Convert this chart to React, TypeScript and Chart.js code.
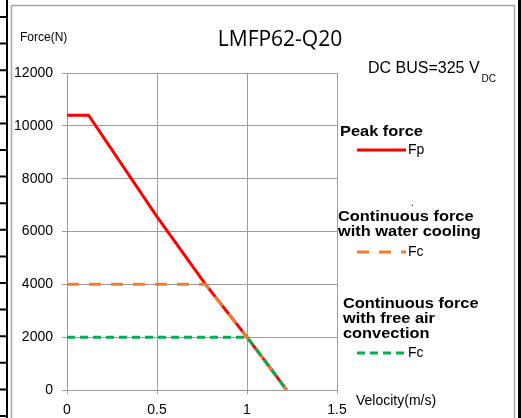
import { useEffect, useRef } from "react";
import { Chart, registerables } from "chart.js";

Chart.register(...registerables);

const chartTitle = "LMFP62-Q20";
const yAxisLabel = "Force(N)";
const xAxisLabel = "Velocity(m/s)";
const busLabel = "DC BUS=325 V";
const busSubscript = "DC";

const peakVelocity = [0, 0.12, 0.5, 0.77, 1.0, 1.1, 1.22];
const peakForce = [10400, 10400, 6560, 4000, 2000, 1100, 0];
const waterVelocity = [0, 0.77, 1.0, 1.1, 1.22];
const waterForce = [4000, 4000, 2000, 1100, 0];
const airVelocity = [0, 1.0, 1.1, 1.22];
const airForce = [2000, 2000, 1100, 0];

const yTickValues = [0, 2000, 4000, 6000, 8000, 10000, 12000];
const xTickValues = [0, 0.5, 1, 1.5];

const legendHeadings = [
  ["Peak force"],
  ["Continuous force", "with water cooling"],
  ["Continuous force", "with free air", "convection"],
];
const legendLabels = ["Fp", "Fc", "Fc"];

const seriesColors = ["#ff0000", "#ed7d31", "#00b050"];
const seriesDashes: number[][] = [[], [12, 10], [8, 5]];

const toPoints = (xs: number[], ys: number[]) => xs.map((x, i) => ({ x, y: ys[i] }));

const decorPlugin = {
  id: "decor",
  beforeDraw(chart: any) {
    const ctx = chart.ctx as CanvasRenderingContext2D;
    const W = chart.width;
    const H = chart.height;
    ctx.save();
    ctx.fillStyle = "#ffffff";
    ctx.fillRect(0, 0, W, H);
    ctx.strokeStyle = "#a6a6a6";
    ctx.lineWidth = 1.5;
    ctx.strokeRect(11.5, 5.5, 503, H + 20);
    ctx.strokeStyle = "#000000";
    ctx.lineWidth = 2;
    ctx.beginPath();
    ctx.moveTo(7, 0);
    ctx.lineTo(7, H);
    for (let y = 17; y < H + 5; y += 26.6) {
      ctx.moveTo(0, y);
      ctx.lineTo(7, y);
    }
    ctx.stroke();
    ctx.lineWidth = 3;
    ctx.beginPath();
    ctx.moveTo(519.5, 0);
    ctx.lineTo(519.5, H);
    ctx.stroke();
    ctx.restore();
  },
  afterDraw(chart: any) {
    const ctx = chart.ctx as CanvasRenderingContext2D;
    ctx.save();
    ctx.fillStyle = "#000000";
    ctx.textBaseline = "middle";
    ctx.textAlign = "center";
    ctx.font = "21px 'Open Sans'";
    ctx.fillText(chartTitle, 280, 40);
    ctx.textAlign = "left";
    ctx.font = "12px 'Liberation Sans'";
    ctx.fillText(yAxisLabel, 20, 38);
    ctx.font = "16px 'Liberation Sans'";
    ctx.fillText(busLabel, 368, 69);
    const bw = ctx.measureText(busLabel).width;
    ctx.font = "10px 'Liberation Sans'";
    ctx.fillText(busSubscript, 368 + bw + 2, 79);
    ctx.font = "14px 'Liberation Sans'";
    ctx.fillText(xAxisLabel, 356, 401);

    const headingX = [340, 338, 343];
    const headingY = [132, 217, 304];
    const sampleY = [150, 252, 353];
    const lineGap = 15;
    legendHeadings.forEach((lines, i) => {
      ctx.font = "bold 14px 'Liberation Sans'";
      lines.forEach((t, j) => {
        ctx.save();
        ctx.translate(headingX[i], headingY[i] + j * lineGap);
        ctx.scale(1.17, 1);
        ctx.fillText(t, 0, 0);
        ctx.restore();
      });
      ctx.save();
      ctx.strokeStyle = seriesColors[i];
      ctx.lineWidth = 3;
      ctx.setLineDash(seriesDashes[i]);
      ctx.beginPath();
      ctx.moveTo(357, sampleY[i]);
      ctx.lineTo(406, sampleY[i]);
      ctx.stroke();
      ctx.restore();
      ctx.font = "14px 'Liberation Sans'";
      ctx.fillText(legendLabels[i], 408, sampleY[i]);
    });
    ctx.font = "10px 'Liberation Sans'";
    ctx.fillText(".", 411, 203);
    ctx.restore();
  },
};

export default function App() {
  const canvasRef = useRef<HTMLCanvasElement | null>(null);

  useEffect(() => {
    if (!canvasRef.current) return;
    const gridColor = "#9c9c9c";
    const tickFont = { family: "'Liberation Sans'", size: 14 };
    const chart = new Chart(canvasRef.current, {
      type: "line",
      data: {
        datasets: [
          {
            label: "Fp",
            data: toPoints(peakVelocity, peakForce),
            borderColor: seriesColors[0],
            borderWidth: 3,
            pointRadius: 0,
            fill: false,
            tension: 0,
            order: 2,
          },
          {
            label: "Fc water",
            data: toPoints(waterVelocity, waterForce),
            borderColor: seriesColors[1],
            borderWidth: 3,
            borderDash: seriesDashes[1],
            pointRadius: 0,
            fill: false,
            tension: 0,
            order: 1,
          },
          {
            label: "Fc air",
            data: toPoints(airVelocity, airForce),
            borderColor: seriesColors[2],
            borderWidth: 3,
            borderDash: seriesDashes[2],
            pointRadius: 0,
            fill: false,
            tension: 0,
            order: 0,
          },
        ],
      },
      options: {
        animation: false,
        responsive: true,
        maintainAspectRatio: false,
        layout: { padding: { left: 0, top: 73, right: 184, bottom: 0 } },
        plugins: {
          legend: { display: false },
          title: { display: false },
          tooltip: { enabled: false },
        },
        scales: {
          x: {
            type: "linear",
            min: xTickValues[0],
            max: xTickValues[xTickValues.length - 1],
            afterBuildTicks: (scale: any) => {
              scale.ticks = xTickValues.map((v) => ({ value: v }));
            },
            afterFit: (scale: any) => {
              scale.height = 28;
            },
            ticks: {
              color: "#000000",
              font: tickFont,
              padding: 8,
              maxRotation: 0,
              callback: (v: any) => String(v),
            },
            grid: { color: gridColor, lineWidth: 1, tickLength: 4, drawTicks: true },
            border: { display: true, color: gridColor, width: 1 },
          },
          y: {
            type: "linear",
            min: yTickValues[0],
            max: yTickValues[yTickValues.length - 1],
            afterBuildTicks: (scale: any) => {
              scale.ticks = yTickValues.map((v) => ({ value: v }));
            },
            afterFit: (scale: any) => {
              scale.width = 67;
            },
            ticks: {
              color: "#000000",
              font: tickFont,
              padding: 9,
              callback: (v: any) => String(v),
            },
            grid: { color: gridColor, lineWidth: 1, tickLength: 5, drawTicks: true },
            border: { display: true, color: gridColor, width: 1 },
          },
        },
      },
      plugins: [decorPlugin],
    });
    return () => chart.destroy();
  }, []);

  return (
    <div style={{ position: "absolute", left: 0, top: 0, width: 521, height: 418 }}>
      <canvas ref={canvasRef} />
    </div>
  );
}
